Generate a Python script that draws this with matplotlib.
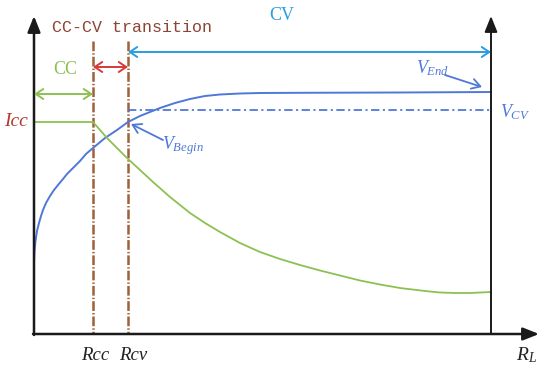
import matplotlib.pyplot as plt

plt.rcParams['mathtext.fontset'] = 'custom'
plt.rcParams['mathtext.it'] = 'Liberation Serif:italic'
plt.rcParams['mathtext.rm'] = 'Liberation Serif'
plt.rcParams['lines.scale_dashes'] = False

# schematic coordinates (x = load R_L, y = level, image-like units, y grows downwards)
x_left, x_right, y_base = 34, 491, 334
r_cc, r_cv = 93, 128
v_cv_level = 110
icc_level = 122

# output voltage curve
volt_x = [34, 34.5, 35.5, 37, 39, 41, 43, 46, 50, 54, 58, 63, 67, 73, 80, 86, 93,
          105, 117, 128, 140, 150, 160, 175, 190, 205, 220, 240, 260, 300, 400, 491]
volt_y = [262, 251, 241, 231, 223, 216, 210, 203, 196, 190, 185, 179, 174, 168, 161,
          154, 148, 138, 130, 122, 116, 112, 108, 103, 99, 96, 94.5, 93.5, 93,
          92.8, 92.5, 92]

# output current curve
curr_x = [34, 93, 100, 107, 117, 127, 140, 153, 170, 190, 205, 220, 240, 260, 280,
          300, 320, 342, 360, 380, 400, 425, 440, 455, 470, 491]
curr_y = [122, 122, 130, 138, 148, 158, 170, 182, 197, 213, 223, 232, 243, 252, 259,
          265, 270.5, 276, 280.5, 284.5, 288, 291, 292.5, 293, 293, 292]

brown = '#a0603c'
blue = '#4f78d8'
cyan = '#2a9de0'
green = '#8cc152'

fig = plt.figure(figsize=(5.5, 3.71), dpi=100)
ax = fig.add_axes([0, 0, 1, 1])
ax.set_xlim(0, 550)
ax.set_ylim(371, 0)
ax.axis('off')

axis_arrow = dict(arrowstyle='-|>,head_length=0.4,head_width=0.16', mutation_scale=24,
                  color='#1a1a1a', lw=1.8, shrinkA=0, shrinkB=0)
ax.annotate('', xy=(x_left, 16), xytext=(x_left, y_base + 1), arrowprops=axis_arrow)
ax.annotate('', xy=(539, y_base), xytext=(x_left - 1, y_base), arrowprops=axis_arrow)
axis_arrow2 = dict(axis_arrow, lw=1.4)
ax.annotate('', xy=(x_right, 16), xytext=(x_right, y_base), arrowprops=axis_arrow2)

# boundary lines
for xr in (r_cc, r_cv):
    ax.plot([xr, xr], [41, y_base], color=brown, lw=1.8, ls=(0, (7, 1.5, 1, 1.5)))
ax.plot([r_cv, x_right], [v_cv_level, v_cv_level], color=blue, lw=1.3,
        ls=(0, (6, 2.5, 1.5, 2.5)))

ax.plot(volt_x, volt_y, color=blue, lw=1.4)
ax.plot(curr_x, curr_y, color=green, lw=1.3)

def span(x0, x1, y, color):
    ax.annotate('', xy=(x1, y), xytext=(x0, y),
                arrowprops=dict(arrowstyle='<->,head_length=0.45,head_width=0.3',
                                mutation_scale=12, color=color, lw=1.4,
                                shrinkA=0, shrinkB=0))

span(x_left, r_cc, 94, green)
span(r_cc, r_cv, 67, '#d63a3a')
span(r_cv, x_right, 52, cyan)

pointer = dict(arrowstyle='->,head_length=0.5,head_width=0.3', mutation_scale=12,
               color=blue, lw=1.3, shrinkA=0, shrinkB=0)
ax.annotate('', xy=(482, 87), xytext=(445, 75), arrowprops=pointer)
ax.annotate('', xy=(131, 124), xytext=(163, 140), arrowprops=pointer)

ax.text(52, 27, 'CC-CV transition', color='#8b4533', fontsize=12,
        family='Liberation Mono', va='center', ha='left')
ax.text(53, 70, 'CC', color=green, fontsize=13, family='Liberation Serif',
        va='center', ha='left')
ax.text(269, 16, 'CV', color=cyan, fontsize=13, family='Liberation Serif',
        va='center', ha='left')
ax.text(4, 122, 'Icc', color='#b0392e', fontsize=14, family='Liberation Serif',
        style='italic', va='center', ha='left')
ax.text(416, 68, r'$V_{End}$', color=blue, fontsize=13, va='center', ha='left')
ax.text(500, 112, r'$V_{CV}$', color=blue, fontsize=13, va='center', ha='left')
ax.text(162, 146, r'$V_{Begin}$', color=blue, fontsize=13, va='center', ha='left')
ax.text(81, 356, 'Rcc', color='#222222', fontsize=13.5, family='Liberation Serif',
        style='italic', va='center', ha='left')
ax.text(119, 356, 'Rcv', color='#222222', fontsize=13.5, family='Liberation Serif',
        style='italic', va='center', ha='left')
ax.text(516, 355, r'$R_L$', color='#222222', fontsize=14, va='center', ha='left')

fig.savefig('out.png', dpi=100)
